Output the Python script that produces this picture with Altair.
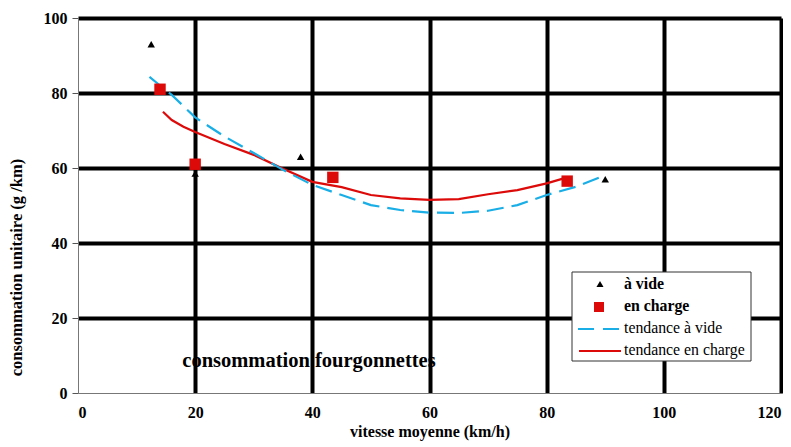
import altair as alt
import pandas as pd

# --- data ---
vide_x = [12.5, 20, 38, 90]
vide_y = [93, 58.5, 63, 57]
charge_x = [14, 20, 43.5, 83.5]
charge_y = [81, 61, 57.5, 56.5]

trend_vide_x = [12.2, 14, 16, 18, 20, 25, 30, 35, 40, 45, 50, 55, 60, 65, 70, 75, 80, 85, 90]
trend_vide_y = [84.3, 82, 79.5, 76.5, 73.5, 68.4, 64, 59.5, 55.5, 52.8, 50.1, 48.8, 48.1, 48, 48.6, 50.1, 52.8, 55, 58.1]
trend_charge_x = [14.5, 16, 18, 20, 25, 30, 35, 40, 45, 50, 55, 60, 65, 70, 75, 80, 83.5]
trend_charge_y = [75, 72.8, 71, 69.6, 66.4, 63.5, 59.8, 56.3, 54.9, 52.8, 51.9, 51.5, 51.7, 53, 54.1, 55.9, 57.5]

x_ticks = [0, 20, 40, 60, 80, 100, 120]
y_ticks = [0, 20, 40, 60, 80, 100]

legend_labels = ["à vide", "en charge", "tendance à vide", "tendance en charge"]
chart_text = "consommation fourgonnettes"
x_title = "vitesse moyenne (km/h)"
y_title = "consommation unitaire (g /km)"

FONT = "Liberation Serif"
RED = "#dd0a0a"
BLUE = "#19aee6"
W, H = 703, 375

grid_op = {"condition": {"test": "datum.value === 0", "value": 0}, "value": 1}

xs = alt.Scale(domain=[0, 120], nice=False, zero=False)
ys = alt.Scale(domain=[0, 100], nice=False, zero=False)

xaxis = alt.Axis(values=x_ticks, grid=True, gridColor="black", gridWidth=4, gridOpacity=grid_op,
                 domainColor="#777777", domainWidth=1, tickSize=0, labelPadding=11,
                 labelFont=FONT, labelFontWeight="bold", labelFontSize=16, labelColor="black",
                 title=x_title, titleFont=FONT, titleFontWeight="bold", titleFontSize=16,
                 titleColor="black", titlePadding=3)
yaxis = alt.Axis(values=y_ticks, grid=True, gridColor="black", gridWidth=4, gridOpacity=grid_op,
                 domainColor="#777777", domainWidth=1, tickSize=6, tickColor="#555555",
                 labelPadding=5, labelFont=FONT, labelFontWeight="bold", labelFontSize=16,
                 labelColor="black", title=y_title, titleFont=FONT, titleFontWeight="bold",
                 titleFontSize=16.5, titleColor="black", titleX=-62, titleY=249,
                 titleAngle=270, titleAlign="center", titleBaseline="middle")

df_v = pd.DataFrame({"x": vide_x, "y": vide_y})
df_c = pd.DataFrame({"x": charge_x, "y": charge_y})
df_tv = pd.DataFrame({"x": trend_vide_x, "y": trend_vide_y})
df_tc = pd.DataFrame({"x": trend_charge_x, "y": trend_charge_y})

base_axes = alt.Chart(df_v).mark_point(opacity=0).encode(
    x=alt.X("x:Q", scale=xs, axis=xaxis),
    y=alt.Y("y:Q", scale=ys, axis=yaxis),
)

tv = alt.Chart(df_tv).mark_line(color=BLUE, strokeWidth=2.2, strokeDash=[17, 8]).encode(
    x=alt.X("x:Q", scale=xs), y=alt.Y("y:Q", scale=ys))
tc = alt.Chart(df_tc).mark_line(color=RED, strokeWidth=2.2).encode(
    x=alt.X("x:Q", scale=xs), y=alt.Y("y:Q", scale=ys))
pv = alt.Chart(df_v).mark_point(shape="triangle-up", filled=True, color="black", size=55, opacity=1).encode(
    x=alt.X("x:Q", scale=xs), y=alt.Y("y:Q", scale=ys))
pc = alt.Chart(df_c).mark_point(shape="square", filled=True, color=RED, size=130, opacity=1).encode(
    x=alt.X("x:Q", scale=xs), y=alt.Y("y:Q", scale=ys))

one = pd.DataFrame({"a": [0]})

txt = alt.Chart(one).mark_text(text=chart_text, font=FONT, fontWeight="bold", fontSize=20.5,
                               color="black", align="center", baseline="middle").encode(
    x=alt.value(231), y=alt.value(343))

# manual legend (pixel layout)
LX, LY = 494, 254
box = alt.Chart(one).mark_rect(fill="white", stroke="#333333", strokeWidth=1).encode(
    x=alt.value(LX), x2=alt.value(LX + 179), y=alt.value(LY), y2=alt.value(LY + 89))
leg_tri = alt.Chart(one).mark_point(shape="triangle-up", filled=True, color="black", size=50, opacity=1).encode(
    x=alt.value(LX + 28), y=alt.value(LY + 12))
leg_sq = alt.Chart(one).mark_point(shape="square", filled=True, color=RED, size=100, opacity=1).encode(
    x=alt.value(LX + 27), y=alt.value(LY + 35))
leg_blue = alt.Chart(one).mark_rule(color=BLUE, strokeWidth=2.2, strokeDash=[16, 9]).encode(
    x=alt.value(LX + 6), x2=alt.value(LX + 47), y=alt.value(LY + 57))
leg_red = alt.Chart(one).mark_rule(color=RED, strokeWidth=2.2).encode(
    x=alt.value(LX + 7), x2=alt.value(LX + 49), y=alt.value(LY + 79))

leg_rows = [LY + 12, LY + 34, LY + 56, LY + 78]
leg_weights = ["bold", "bold", "normal", "normal"]
leg_texts = []
for lab, yy, fw in zip(legend_labels, leg_rows, leg_weights):
    leg_texts.append(alt.Chart(one).mark_text(text=lab, font=FONT, fontWeight=fw, fontSize=15.8,
                                              color="black", align="left", baseline="middle").encode(
        x=alt.value(LX + 52), y=alt.value(yy)))

chart = alt.layer(base_axes, tc, tv, pv, pc, txt, box, leg_tri, leg_sq, leg_blue, leg_red, *leg_texts).properties(
    width=W, height=H,
    autosize=alt.AutoSizeParams(type="none"),
    padding={"left": 70, "top": 10, "right": 2, "bottom": 48},
).configure_view(stroke=None).configure(background="white")

chart.save("out.html", embed_options={"renderer": "svg", "actions": False})
